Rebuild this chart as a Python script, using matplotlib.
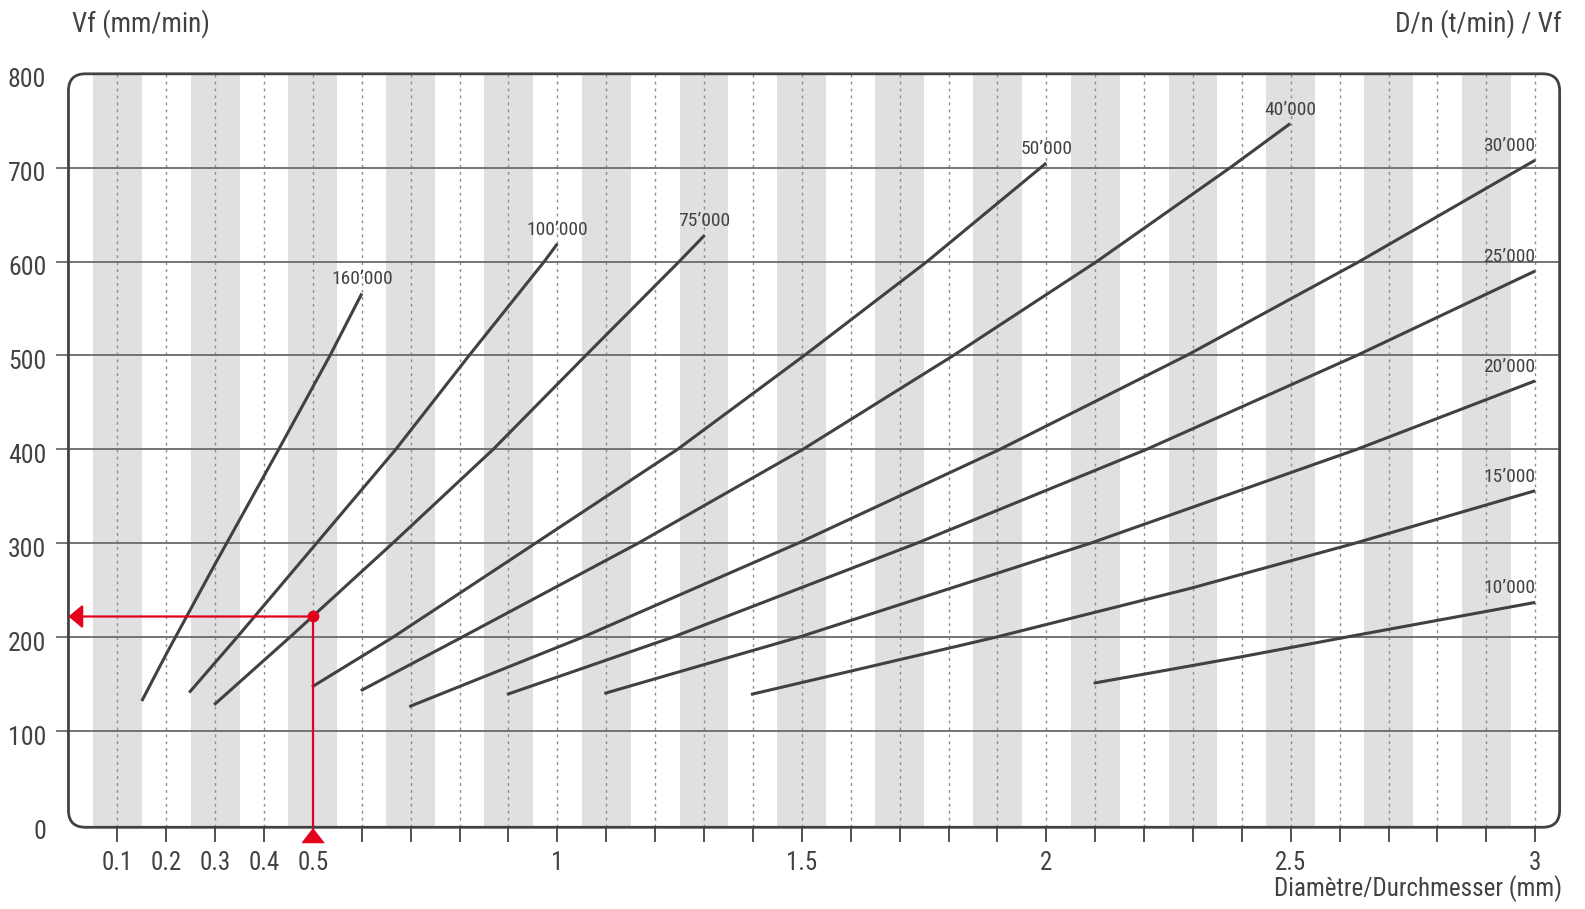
import numpy as np
import matplotlib
matplotlib.use("Agg")
import matplotlib.pyplot as plt
from matplotlib import font_manager
from matplotlib.patches import FancyBboxPatch
from matplotlib.transforms import ScaledTranslation

# pick a narrow sans if one is installed (original uses a condensed face)
_names = {f.name for f in font_manager.fontManager.ttflist}
_wanted = ['Liberation Sans Narrow', 'Roboto Condensed', 'Open Sans Condensed',
           'Noto Sans Condensed', 'DejaVu Sans Condensed', 'Noto Sans Display Condensed']
_pick = [n for n in _wanted if n in _names]
plt.rcParams['font.family'] = _pick[:1] + ['Roboto', 'DejaVu Sans']

ink = '#424242'
line_col = '#414141'
red = '#e2001a'

# spindle speeds (t/min) and the feed curves
speeds = ["160’000", "100’000", "75’000", "50’000", "40’000",
          "30’000", "25’000", "20’000", "15’000", "10’000"]

d_160k = [0.15, 0.2, 0.3, 0.43, 0.535, 0.60]
vf_160k = [132, 182, 278, 400, 500, 566]

d_100k = [0.247, 0.345, 0.6695, 0.8195, 0.973, 1.0]
vf_100k = [141, 200, 400, 500, 600, 619]

d_75k = [0.298, 0.453, 0.663, 0.8686, 1.058, 1.249, 1.301]
vf_75k = [128, 200, 300, 400, 500, 600, 628]

d_50k = [0.498, 0.664, 0.955, 1.2457, 1.505, 1.756, 2.0]
vf_50k = [147, 200, 300, 400, 500, 600, 705]

d_40k = [0.598, 0.805, 1.165, 1.502, 1.810, 2.103, 2.376, 2.499]
vf_40k = [143, 200, 300, 400, 500, 600, 700, 747]

d_30k = [0.697, 1.052, 1.492, 1.905, 2.287, 2.640, 2.973, 3.0]
vf_30k = [126, 200, 300, 400, 500, 600, 700, 708]

d_25k = [0.897, 1.236, 1.735, 2.205, 2.635, 3.0]
vf_25k = [139, 200, 300, 400, 500, 590]

d_20k = [1.096, 1.494, 2.09, 2.635, 3.0]
vf_20k = [140, 200, 300, 400, 473]

d_15k = [1.396, 1.897, 2.295, 2.631, 3.0]
vf_15k = [139, 200, 252, 300, 356]

d_10k = [2.097, 2.398, 2.613, 3.0]
vf_10k = [151, 179, 200, 237]

curves = [(d_160k, vf_160k), (d_100k, vf_100k), (d_75k, vf_75k), (d_50k, vf_50k),
          (d_40k, vf_40k), (d_30k, vf_30k), (d_25k, vf_25k), (d_20k, vf_20k),
          (d_15k, vf_15k), (d_10k, vf_10k)]
label_ha = ['center'] * 5 + ['right'] * 5

# example reading: D = 0.5 mm -> Vf
ex_d = 0.5
ex_vf = 222

xtick_labels = {0.1: '0.1', 0.2: '0.2', 0.3: '0.3', 0.4: '0.4', 0.5: '0.5',
                1.0: '1', 1.5: '1.5', 2.0: '2', 2.5: '2.5', 3.0: '3'}
yticks = [0, 100, 200, 300, 400, 500, 600, 700, 800]

fig = plt.figure(figsize=(15.85, 9.09), dpi=100)
ax = fig.add_axes([0.0432, 0.0899, 0.9408, 0.8289])
ax.set_xlim(0, 3.05)
ax.set_ylim(-2.5, 800)
for s in ax.spines.values():
    s.set_visible(False)

# grey stripes and dotted verticals
for c in np.arange(0.1, 3.0, 0.2):
    ax.axvspan(c - 0.05, c + 0.05, color='#dfe0e2', lw=0, zorder=0)
for xv in np.arange(0.1, 3.01, 0.1):
    ax.axvline(xv, color='#8c8c8c', lw=1.0, ls=(0, (2, 3)), zorder=1)

# horizontal grid
for yv in range(100, 800, 100):
    ax.plot([-0.023, 3.05], [yv, yv], color='#6a6a6a', lw=1.3,
            clip_on=False, zorder=2)

# rounded frame
frame = FancyBboxPatch((0, 0), 1, 1, boxstyle='round,pad=0,rounding_size=0.0114',
                       mutation_aspect=1.98, transform=ax.transAxes, fill=False,
                       ec=ink, lw=2.0, clip_on=False, zorder=6)
ax.add_patch(frame)

# curves
for (xs, ys), name, ha in zip(curves, speeds, label_ha):
    ax.plot(xs, ys, color=line_col, lw=2.2, solid_capstyle='butt', zorder=4)
    ax.annotate(name, (xs[-1], ys[-1]), xytext=(0, 6.5), textcoords='offset points',
                ha=ha, va='baseline', fontsize=14, color=ink, zorder=5)

# red example
ax.annotate('', xy=(0, ex_vf), xytext=(ex_d, ex_vf),
            arrowprops=dict(arrowstyle='-|>,head_length=0.86,head_width=0.72',
                            color=red, lw=1.6, shrinkA=0, shrinkB=0,
                            mutation_scale=10), zorder=7)
ax.plot([ex_d, ex_d], [ex_vf, -2.5], color=red, lw=1.6, zorder=7)
ax.plot(ex_d, ex_vf, 'o', ms=7.5, color=red, zorder=8)
ax.plot(ex_d, -10.5, marker=[(0, 0.65), (-1, -0.65), (1, -0.65)], ms=15.6,
        color=red, clip_on=False, zorder=8)

# ticks
xt = np.round(np.arange(0.1, 3.01, 0.1), 1)
ax.set_xticks(xt)
ax.set_xticklabels([xtick_labels.get(round(v, 1), '') for v in xt])
ax.tick_params(axis='x', length=11, width=1.3, color=ink, labelsize=18,
               labelcolor=ink, pad=6)
ax.set_yticks(yticks)
ax.set_yticklabels([str(v) for v in yticks])
ax.tick_params(axis='y', length=0, pad=16, labelsize=18.5, labelcolor=ink)
shift = ScaledTranslation(0, -3 / 72, fig.dpi_scale_trans)
for lbl in ax.get_yticklabels():
    lbl.set_transform(lbl.get_transform() + shift)

fig.text(0.0454, 0.974, 'Vf (mm/min)', fontsize=19.5, color=ink, ha='left', va='center')
fig.text(0.9855, 0.974, 'D/n (t/min) / Vf', fontsize=19.5, color=ink, ha='right', va='center')
fig.text(0.9855, 0.023, 'Diamètre/Durchmesser (mm)', fontsize=18, color=ink,
         ha='right', va='center')

fig.savefig('out.png', dpi=100)
